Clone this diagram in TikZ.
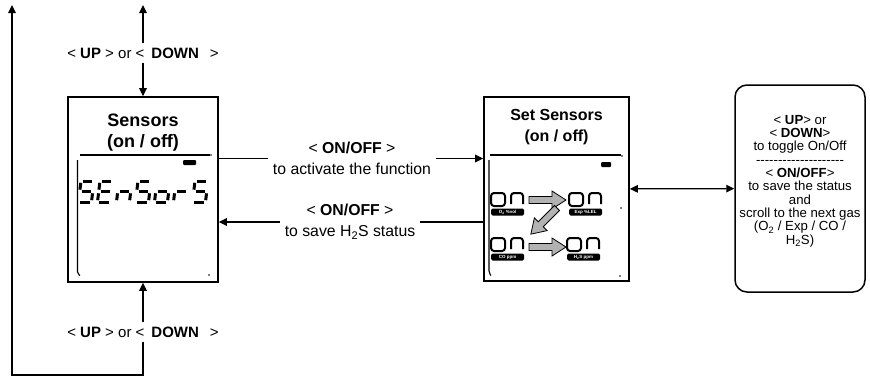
\documentclass[tikz,border=0pt]{standalone}
\usepackage{fontspec}
\setmainfont{Liberation Sans}[Ligatures=TeXOff]
\usetikzlibrary{arrows.meta}

% one segment of the LCD digits: 0 top, 1 upper right, 2 lower right,
% 3 bottom, 4 lower left, 5 upper left, 6 middle
\newcommand{\lcdseg}[1]{%
  \ifcase#1\relax
    \draw[seg] (1.8,0) -- (11.2,0);
  \or \draw[seg] (13,1.8) -- (13,8.7);
  \or \draw[seg] (13,12.3) -- (13,19.2);
  \or \draw[seg] (1.8,21) -- (11.2,21);
  \or \draw[seg] (0,12.3) -- (0,19.2);
  \or \draw[seg] (0,1.8) -- (0,8.7);
  \or \draw[seg] (1.8,10.5) -- (11.2,10.5);
  \fi}
\newcommand{\lcdchar}[2]{%
  \begin{scope}[shift={(#1,181)}, xslant=0.12]
    \foreach \s in {#2} {\lcdseg{\s}}
  \end{scope}}

\begin{document}
\begin{tikzpicture}[x=1pt, y=-1pt,
  screen/.style={draw, line width=1.6pt, inner sep=0pt},
  title/.style={align=center, font=\bfseries},
  lbl/.style={align=center, inner sep=4pt, font=\fontsize{15}{17}\selectfont},
  onoff/.style={align=center, inner sep=5pt, font=\fontsize{15.8}{21}\selectfont},
  help/.style={draw, line width=1.5pt, rounded corners=12pt, minimum width=130pt, minimum height=207pt},
  arr/.style={-{Triangle[length=8pt,width=7.5pt]}, line width=1.3pt},
  dbl/.style={{Triangle[length=8pt,width=7.5pt]}-{Triangle[length=8pt,width=7.5pt]}, line width=1.3pt},
  seg/.style={line width=3pt},
  lcd/.style={line width=1.1pt},
  digit/.style={line width=2pt, rounded corners=3pt},
  gastag/.style={fill=black, rounded corners=1.5pt, text=white, inner sep=0.6pt,
    font=\fontsize{4.5}{5}\selectfont\bfseries},
  blockarrow/.pic={\draw[line width=0.8pt, fill=black!30] (0,-3.5) -- (23,-3.5) -- (23,-9)
    -- (37,0) -- (23,9) -- (23,3.5) -- (0,3.5) -- cycle;}
]
\useasboundingbox (0,0) rectangle (870,380);

% the two screens and the help box
\node[screen, minimum width=150pt, minimum height=185pt] (sensors)    at (143,189.5) {};
\node[screen, minimum width=145pt, minimum height=184pt] (setSensors) at (556.5,189) {};
\node[help] (help) at (800,188.5) {};

\node[title, font=\fontsize{18}{21}\selectfont\bfseries] (sensorsTitle) at (143,132.5) {Sensors\\(on / off)};
\node[title, font=\fontsize{16}{21}\selectfont\bfseries] (setTitle) at (556.5,127.5) {Set Sensors\\(on / off)};
\node[align=center, font=\fontsize{13.2}{13.3}\selectfont] (helpText) at (800,181) {%
  < \textbf{UP}> or\\ < \textbf{DOWN}>\\ to toggle On/Off\\ --------------------\\
  < \textbf{ON/OFF}>\\ to save the status\\ and\\ scroll to the next gas\\
  (O\textsubscript{2} / Exp / CO /\\ H\textsubscript{2}S)};

% LCD of the first screen
\draw[lcd] (80,155) -- (210,155);
\draw[lcd, rounded corners=2pt] (77.5,160) -- (77.5,274) -- (80,275.5);
\fill (211,155) circle (0.8);
\fill (209,275) circle (0.8);
\fill[rounded corners=1pt] (183,160) rectangle (196,165);
\lcdchar{81}{0,5,6,2,3}
\lcdchar{100}{0,5,6,4,3}
\lcdchar{119}{4,6,2}
\lcdchar{138}{0,5,6,2,3}
\lcdchar{157}{4,6,2,3}
\lcdchar{176}{4,6}
\lcdchar{195}{0,5,6,2,3}

% LCD of the second screen
\draw[lcd] (490,155) -- (621,155);
\draw[lcd, rounded corners=2pt] (489,160) -- (489,273) -- (491,275.5);
\fill (622,156) circle (0.8);
\fill (621,208) circle (0.8);
\fill (620,276) circle (0.8);
\fill[rounded corners=1pt] (601,162) rectangle (611,167);
\foreach \gx/\gy/\gas in {491/193/{O\textsubscript{2} \%vol}, 569/193/{Exp \%LEL},
                          491/238/{CO ppm}, 567/238/{H\textsubscript{2}S ppm}} {
  \draw[digit] (\gx,\gy+13) -- (\gx,\gy) -- (\gx+14,\gy) -- (\gx+14,\gy+13) -- cycle;
  \draw[digit] (\gx+20,\gy+11) -- (\gx+20,\gy) -- (\gx+32,\gy) -- (\gx+32,\gy+11);
  \node[gastag, minimum width=33pt, minimum height=7pt] (tag\gx\gy) at (\gx+16.5,\gy+19) {\gas};
}
\pic (arrTop)  at (529,200) {blockarrow};
\pic (arrBot)  at (529,247) {blockarrow};
\pic[rotate=225] (arrDiag) at (557,208) {blockarrow};

% labels on the connectors
\node[lbl] (upTop) at (143,53)  {< \textbf{UP} > or <\hspace{7pt}\textbf{DOWN}\hspace{11pt}>};
\node[lbl] (upBot) at (143,332) {< \textbf{UP} > or <\hspace{7pt}\textbf{DOWN}\hspace{11pt}>};
\node[onoff] (activate) at (352,158.5) {< \textbf{ON/OFF} >\\to activate the function};
\node[onoff] (saveH2S)  at (350,222)   {< \textbf{ON/OFF} >\\to save H\textsubscript{2}S status};

\coordinate (topEnd)   at (143,5);
\coordinate (loopTurn) at (143,375);
\coordinate (loopEnd)  at (12,5);

\draw[arr] (upTop) -- (topEnd);
\draw[arr] (upTop) -- (sensors);
\draw[arr] (upBot) -- (sensors);
\draw[arr] (upBot) -- (loopTurn) -| (loopEnd);
\draw[line width=1.3pt] (sensors.east |- activate) -- (activate);
\draw[arr] (activate) -- (setSensors.west |- activate);
\draw[arr] (saveH2S) -- (sensors.east |- saveH2S);
\draw[line width=1.3pt] (setSensors.west |- saveH2S) -- (saveH2S);
\draw[dbl] (setSensors) -- (help);
\end{tikzpicture}
\end{document}
